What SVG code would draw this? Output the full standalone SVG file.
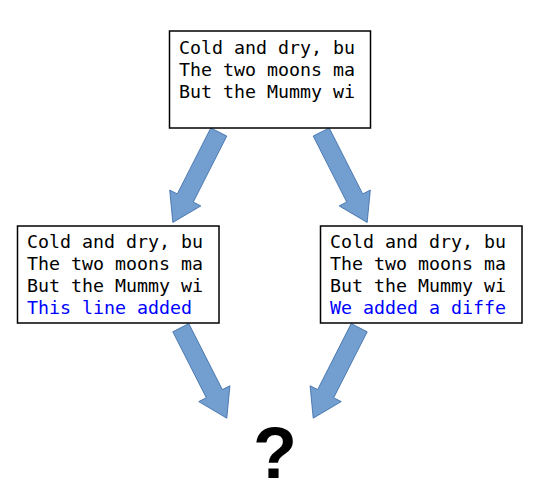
<svg xmlns="http://www.w3.org/2000/svg" width="540" height="495" viewBox="0 0 540 495">
<style>
.box{fill:#fff;stroke:#000;stroke-width:1.5}
.t{font-family:"DejaVu Sans Mono",monospace;font-size:18.3px;fill:#000}
.b{fill:#0000ff}
.arr{fill:#729fcf;stroke:#3465a4;stroke-width:0.7}
.q{font-family:"Liberation Sans",Arial,sans-serif;font-weight:bold;font-size:72px;fill:#000}
</style>
<defs>
<polygon id="ar" points="0,-9 74,-9 74,-17.5 101.5,0 74,17.5 74,9 0,9"/>
</defs>
<rect width="540" height="495" fill="#fff"/>
<g id="connectors">
<use href="#ar" class="arr" transform="translate(218.8,132) rotate(116.94)"/>
<use href="#ar" class="arr" transform="translate(321.2,132) rotate(63.06)"/>
<use href="#ar" class="arr" transform="translate(180.8,327.7) rotate(63.06)"/>
<use href="#ar" class="arr" transform="translate(359.2,327.7) rotate(116.94)"/>
</g>
<g id="top">
<rect class="box" x="169.5" y="31" width="201" height="97"/>
<text class="t" x="179" y="54">Cold and dry, bu</text>
<text class="t" x="179" y="76">The two moons ma</text>
<text class="t" x="179" y="98">But the Mummy wi</text>
</g>
<g id="left">
<rect class="box" x="17.5" y="226" width="201.5" height="97"/>
<text class="t" x="27" y="248">Cold and dry, bu</text>
<text class="t" x="27" y="270">The two moons ma</text>
<text class="t" x="27" y="292">But the Mummy wi</text>
<text class="t b" x="27" y="314">This line added</text>
</g>
<g id="right">
<rect class="box" x="320.5" y="226" width="201.5" height="97"/>
<text class="t" x="330" y="248">Cold and dry, bu</text>
<text class="t" x="330" y="270">The two moons ma</text>
<text class="t" x="330" y="292">But the Mummy wi</text>
<text class="t b" x="330" y="314">We added a diffe</text>
</g>
<g id="question">
<text class="q" x="275" y="478" text-anchor="middle">?</text>
</g>
</svg>
